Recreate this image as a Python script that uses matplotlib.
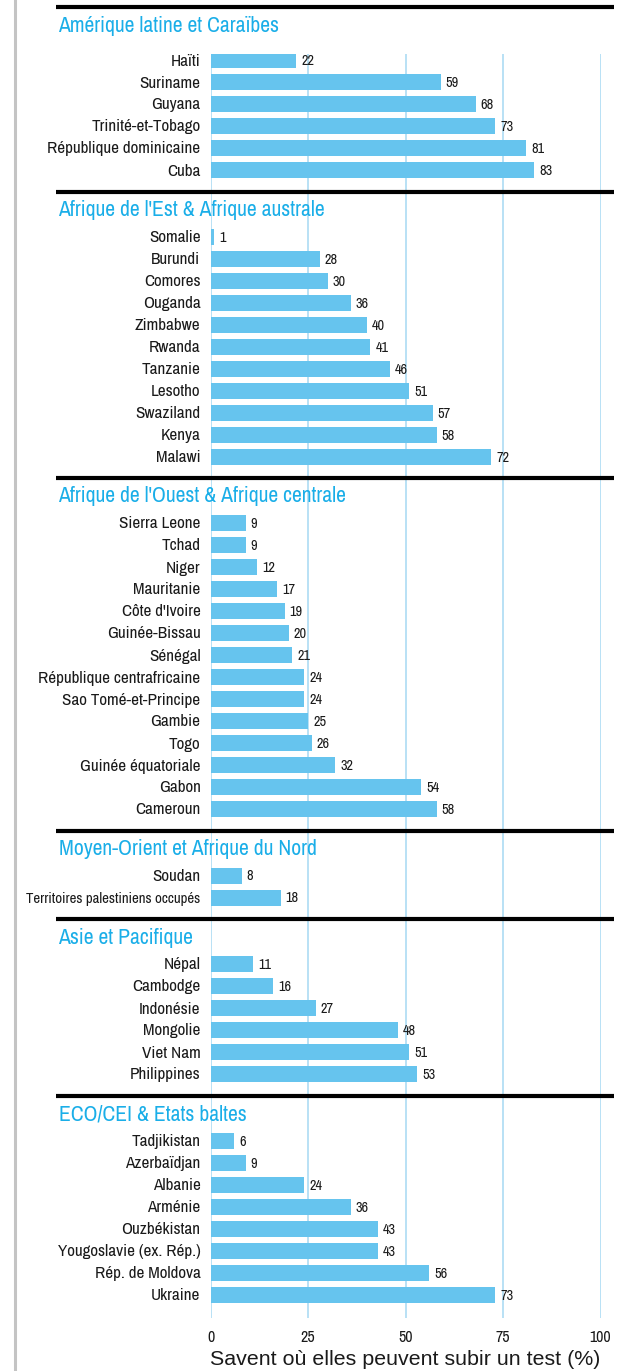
import matplotlib.pyplot as plt
from matplotlib.lines import Line2D

plt.rcParams['font.family'] = ['Archivo Narrow', 'DejaVu Sans']

regions = [
    "Amérique latine et Caraïbes",
    "Afrique de l'Est & Afrique australe",
    "Afrique de l'Ouest & Afrique centrale",
    "Moyen-Orient et Afrique du Nord",
    "Asie et Pacifique",
    "ECO/CEI & Etats baltes",
]

amerique = ["Haïti", "Suriname", "Guyana", "Trinité-et-Tobago",
            "République dominicaine", "Cuba"]
amerique_vals = [22, 59, 68, 73, 81, 83]

afrique_est = ["Somalie", "Burundi", "Comores", "Ouganda", "Zimbabwe", "Rwanda",
               "Tanzanie", "Lesotho", "Swaziland", "Kenya", "Malawi"]
afrique_est_vals = [1, 28, 30, 36, 40, 41, 46, 51, 57, 58, 72]

afrique_ouest = ["Sierra Leone", "Tchad", "Niger", "Mauritanie", "Côte d'Ivoire",
                 "Guinée-Bissau", "Sénégal", "République centrafricaine",
                 "Sao Tomé-et-Principe", "Gambie", "Togo", "Guinée équatoriale",
                 "Gabon", "Cameroun"]
afrique_ouest_vals = [9, 9, 12, 17, 19, 20, 21, 24, 24, 25, 26, 32, 54, 58]

moyen_orient = ["Soudan", "Territoires palestiniens occupés"]
moyen_orient_vals = [8, 18]

asie = ["Népal", "Cambodge", "Indonésie", "Mongolie", "Viet Nam", "Philippines"]
asie_vals = [11, 16, 27, 48, 51, 53]

eco = ["Tadjikistan", "Azerbaïdjan", "Albanie", "Arménie", "Ouzbékistan",
       "Yougoslavie (ex. Rép.)", "Rép. de Moldova", "Ukraine"]
eco_vals = [6, 9, 24, 36, 43, 43, 56, 73]

xticks = [0, 25, 50, 75, 100]
xlabel = "Savent où elles peuvent subir un test (%)"

sections = [
    (amerique, amerique_vals),
    (afrique_est, afrique_est_vals),
    (afrique_ouest, afrique_ouest_vals),
    (moyen_orient, moyen_orient_vals),
    (asie, asie_vals),
    (eco, eco_vals),
]

bar_color = '#66c4ee'
head_color = '#1aaee8'
grid_color = '#b3def5'
ink = '#1a1a1a'

W, H = 631, 1371
fig = plt.figure(figsize=(W / 100, H / 100), dpi=100)
x0, x100 = 210.5, 600.5
top, bottom = 54, 1318
ax = fig.add_axes([x0 / W, (H - bottom) / H, (x100 - x0) / W, (bottom - top) / H])
ax.set_xlim(0, 100)
ax.set_ylim(bottom, top)
px = 100 / (x100 - x0)  # data units per pixel in x

# gray rule on the left edge
fig.add_artist(Line2D([15 / W, 15 / W], [0, 1], color='#c4c4c4', lw=2.2))

pitch = 22
line_y = 7
for i, (names, vals) in enumerate(sections):
    ax.plot([-155 * px, 403 * px], [line_y, line_y], color='black', lw=3,
            clip_on=False, solid_capstyle='butt', zorder=3)
    ax.text(-152 * px, line_y + 24.5, regions[i], color=head_color, fontsize=15.6,
            va='baseline', ha='left', clip_on=False)
    first = line_y + (53 if i == 0 else 45)
    ys = [first + k * pitch for k in range(len(names))]
    ax.barh(ys, vals, height=16, color=bar_color, zorder=2)
    for y, n, v in zip(ys, names, vals):
        # the longest label is set tighter so it fits the margin
        fs = 12.3 if len(n) < 26 else 10.7
        ax.text(-10 * px, y + 5.5, n, ha='right', va='baseline', fontsize=fs,
                color=ink, clip_on=False)
        ax.text(v + 5 * px, y + 5, str(v), ha='left', va='baseline', fontsize=10.3,
                color=ink, clip_on=False)
    line_y = ys[-1] + 21.5

ax.set_xticks(xticks)
ax.set_xticklabels([str(t) for t in xticks], fontsize=11.5, color=ink)
ax.set_yticks([])
ax.tick_params(axis='x', length=0, pad=9)
ax.xaxis.grid(True, color=grid_color, lw=1.3)
ax.set_axisbelow(True)
for s in ax.spines.values():
    s.set_visible(False)
ax.set_xlabel(xlabel, fontsize=15.4, labelpad=3, color=ink,
              family=['Liberation Sans', 'DejaVu Sans'])

fig.savefig('out.png', dpi=100)
